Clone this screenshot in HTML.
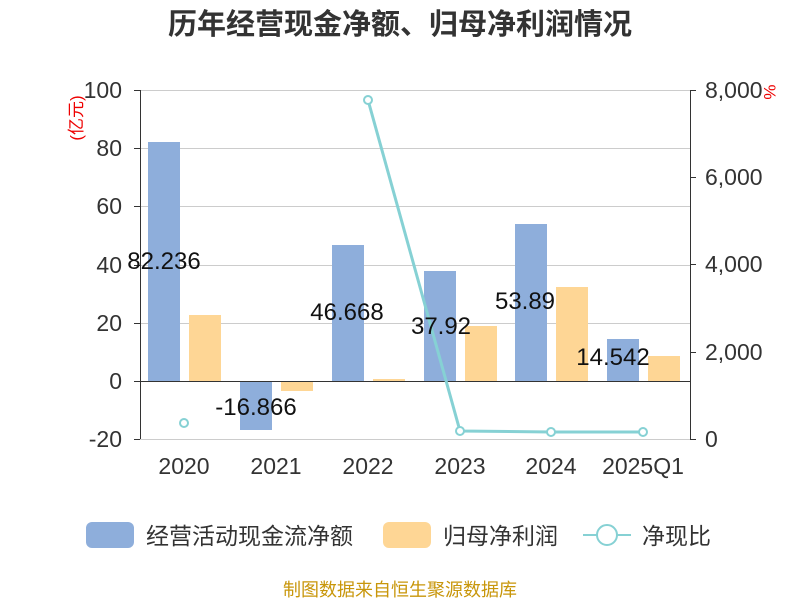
<!DOCTYPE html>
<html><head><meta charset="utf-8"><style>
body{margin:0;background:#fff;}
svg text{font-family:"Liberation Sans","Noto Sans CJK SC",sans-serif;}
</style></head><body>
<svg width="800" height="600" xmlns="http://www.w3.org/2000/svg">
<rect width="800" height="600" fill="#fff"/>
<text x="400" y="34" text-anchor="middle" font-size="29" font-weight="bold" fill="#333">历年经营现金净额、归母净利润情况</text>
<g stroke="#ccc" stroke-width="1">
<line x1="140" y1="90.5" x2="690" y2="90.5"/>
<line x1="140" y1="148.5" x2="690" y2="148.5"/>
<line x1="140" y1="206.5" x2="690" y2="206.5"/>
<line x1="140" y1="265.5" x2="690" y2="265.5"/>
<line x1="140" y1="323.5" x2="690" y2="323.5"/>
<line x1="140" y1="439.5" x2="690" y2="439.5"/>
</g>
<line x1="140.5" y1="90" x2="140.5" y2="439" stroke="#333"/>
<line x1="690.5" y1="90" x2="690.5" y2="439" stroke="#333"/>
<g stroke="#333">
<line x1="134" y1="90.5" x2="140" y2="90.5"/><line x1="134" y1="148.5" x2="140" y2="148.5"/><line x1="134" y1="206.5" x2="140" y2="206.5"/><line x1="134" y1="265.5" x2="140" y2="265.5"/><line x1="134" y1="323.5" x2="140" y2="323.5"/><line x1="134" y1="381.5" x2="140" y2="381.5"/><line x1="134" y1="439.5" x2="140" y2="439.5"/>
<line x1="690" y1="90.5" x2="696" y2="90.5"/><line x1="690" y1="177.5" x2="696" y2="177.5"/><line x1="690" y1="264.5" x2="696" y2="264.5"/><line x1="690" y1="352.5" x2="696" y2="352.5"/><line x1="690" y1="439.5" x2="696" y2="439.5"/>
</g>
<g font-size="23" fill="#333" text-anchor="end">
<text x="122" y="98">100</text><text x="122" y="156">80</text><text x="122" y="214">60</text><text x="122" y="273">40</text><text x="122" y="331">20</text><text x="122" y="389">0</text><text x="122" y="447">-20</text>
</g>
<g font-size="23" fill="#333" text-anchor="start">
<text x="705" y="98">8,000</text><text x="705" y="185">6,000</text><text x="705" y="272">4,000</text><text x="705" y="360">2,000</text><text x="705" y="447">0</text>
</g>
<text transform="translate(82,118) rotate(-90)" font-size="17" fill="#e00" text-anchor="middle">(亿元)</text>
<text transform="translate(764,92) rotate(90)" font-size="17" fill="#e00" text-anchor="middle">%</text>
<g fill="#8eaedb">
<rect x="148" y="142" width="32" height="239"/>
<rect x="240" y="381" width="32" height="49"/>
<rect x="332" y="245" width="32" height="136"/>
<rect x="424" y="271" width="32" height="110"/>
<rect x="515" y="224" width="32" height="157"/>
<rect x="607" y="339" width="32" height="42"/>
</g>
<g fill="#fed695">
<rect x="189" y="315" width="32" height="66"/>
<rect x="281" y="381" width="32" height="10"/>
<rect x="373" y="379" width="32" height="2"/>
<rect x="465" y="326" width="32" height="55"/>
<rect x="556" y="287" width="32" height="94"/>
<rect x="648" y="356" width="32" height="25"/>
</g>
<line x1="140" y1="381.5" x2="690" y2="381.5" stroke="#333"/>
<g font-size="23" fill="#333" text-anchor="middle">
<text x="184" y="474">2020</text><text x="276" y="474">2021</text><text x="368" y="474">2022</text><text x="460" y="474">2023</text><text x="551" y="474">2024</text><text x="643" y="474">2025Q1</text>
</g>
<polyline points="368,100 460,431 551,432 643,432" fill="none" stroke="#86d1d4" stroke-width="3"/>
<g fill="#fff" stroke="#86d1d4" stroke-width="2">
<circle cx="184" cy="423" r="4"/><circle cx="368" cy="100" r="4"/><circle cx="460" cy="431" r="4"/><circle cx="551" cy="432" r="4"/><circle cx="643" cy="432" r="4"/>
</g>
<g font-size="24" fill="#111" text-anchor="middle">
<text x="164" y="269">82.236</text>
<text x="256" y="415">-16.866</text>
<text x="347" y="320">46.668</text>
<text x="441" y="334">37.92</text>
<text x="525" y="309">53.89</text>
<text x="613" y="365">14.542</text>
</g>
<rect x="86" y="522" width="48" height="26" rx="6" fill="#8eaedb"/>
<text x="146" y="544" font-size="23" fill="#333">经营活动现金流净额</text>
<rect x="383" y="522" width="48" height="26" rx="6" fill="#fed695"/>
<text x="443" y="544" font-size="23" fill="#333">归母净利润</text>
<line x1="583" y1="535" x2="631" y2="535" stroke="#86d1d4" stroke-width="2"/>
<circle cx="607" cy="535" r="10" fill="#fff" stroke="#86d1d4" stroke-width="2"/>
<text x="642" y="544" font-size="23" fill="#333">净现比</text>
<text x="400" y="596" font-size="18" fill="#c8960a" text-anchor="middle">制图数据来自恒生聚源数据库</text>
</svg>
</body></html>
